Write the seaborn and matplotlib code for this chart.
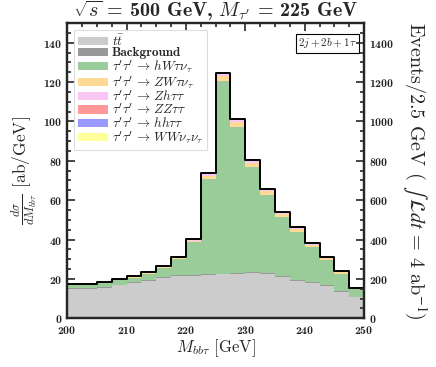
import numpy as np
import pandas as pd
import matplotlib
matplotlib.use("Agg")
import matplotlib.pyplot as plt
from matplotlib.patches import Patch
from matplotlib.ticker import MultipleLocator
import seaborn as sns

# ─── Data (ab/GeV per 2.5 GeV bin) ────────────────────────────────────────────
bin_lo, bin_hi, bin_w = 200, 250, 2.5
centers = np.arange(bin_lo + bin_w / 2, bin_hi, bin_w)

ttbar = [15.0, 15.0, 15.4, 16.7, 18.1, 19.1, 20.3, 21.6, 21.6, 22.0,
         22.3, 22.6, 23.0, 22.6, 20.8, 18.9, 18.1, 16.6, 13.2, 10.6]
background = [0.4, 0.4, 0.4, 0.4, 0.4, 0.4, 0.4, 0.4, 0.4, 0.4,
              0.4, 0.4, 0.4, 0.4, 0.4, 0.4, 0.4, 0.4, 0.4, 0.4]
hW = [1.25, 1.65, 1.85, 2.08, 2.18, 3.04, 4.74, 8.0, 16.55, 48.6,
      98.0, 74.4, 53.25, 39.82, 30.21, 24.64, 17.7, 12.46, 8.96, 3.6]
ZW = [0.3, 0.3, 0.35, 0.4, 0.45, 0.5, 0.6, 0.7, 0.9, 1.5,
      2.2, 2.2, 2.0, 1.7, 1.5, 1.3, 1.1, 0.9, 0.7, 0.5]
Zh = [0.15, 0.15, 0.2, 0.2, 0.25, 0.3, 0.3, 0.4, 0.5, 0.8,
      1.2, 1.2, 1.1, 0.9, 0.8, 0.7, 0.6, 0.5, 0.35, 0.25]
ZZ = [0.05, 0.05, 0.05, 0.06, 0.06, 0.08, 0.08, 0.1, 0.12, 0.2,
      0.3, 0.3, 0.3, 0.25, 0.2, 0.2, 0.15, 0.12, 0.1, 0.08]
hh = [0.03, 0.03, 0.03, 0.04, 0.04, 0.05, 0.05, 0.06, 0.08, 0.12,
      0.2, 0.2, 0.15, 0.15, 0.12, 0.1, 0.1, 0.08, 0.06, 0.05]
WW = [0.02, 0.02, 0.02, 0.02, 0.02, 0.03, 0.03, 0.04, 0.05, 0.08,
      0.1, 0.1, 0.1, 0.08, 0.07, 0.06, 0.05, 0.04, 0.03, 0.02]

labels = [r'$t\bar{t}$', 'Background',
          r"$\tau^\prime\tau^\prime\,\rightarrow\,hW\tau\nu_\tau$",
          r"$\tau^\prime\tau^\prime\,\rightarrow\,ZW\tau\nu_\tau$",
          r"$\tau^\prime\tau^\prime\,\rightarrow\,Zh\tau\tau$",
          r"$\tau^\prime\tau^\prime\,\rightarrow\,ZZ\tau\tau$",
          r"$\tau^\prime\tau^\prime\,\rightarrow\,hh\tau\tau$",
          r"$\tau^\prime\tau^\prime\,\rightarrow\,WW\nu_\tau\nu_\tau$"]
series = [ttbar, background, hW, ZW, Zh, ZZ, hh, WW]
colors = ['#cccccc', '#999999', '#99cc99', '#ffd996',
          '#f7c6f2', '#ff9999', '#9999ff', '#ffff99']

# ─── Style ────────────────────────────────────────────────────────────────────
sns.set_style("ticks")
plt.rcParams['font.family'] = 'serif'
plt.rcParams['font.serif'] = ['cmb10', 'DejaVu Serif']
plt.rcParams['mathtext.fontset'] = 'cm'
plt.rcParams['axes.unicode_minus'] = False
plt.rcParams['axes.formatter.use_mathtext'] = True

df = pd.concat([
    pd.DataFrame({'x': centers, 'w': vals, 'process': lab})
    for lab, vals in zip(labels, series)
], ignore_index=True)

fig = plt.figure(figsize=(4.36, 3.67), dpi=100)
ax = fig.add_axes([0.154, 0.133, 0.681, 0.804])

hist_kw = dict(binwidth=bin_w, binrange=(bin_lo, bin_hi), element='step')

# stacked histogram (seaborn puts the first hue level on top)
sns.histplot(data=df, x='x', weights='w', hue='process', hue_order=labels[::-1],
             multiple='stack', alpha=1, palette=dict(zip(labels, colors)),
             linewidth=0, legend=False, ax=ax, **hist_kw)

# total outline
sns.histplot(data=df, x='x', weights='w', fill=False, color='black',
             linewidth=1.4, ax=ax, **hist_kw)

ax.set_xlim(bin_lo, bin_hi)
ax.set_ylim(0, 150)
ax.xaxis.set_major_locator(MultipleLocator(10))
ax.xaxis.set_minor_locator(MultipleLocator(2.5))
ax.yaxis.set_major_locator(MultipleLocator(20))
ax.yaxis.set_minor_locator(MultipleLocator(5))
ax.tick_params(which='both', direction='in', top=True, right=False,
               labelsize=8.5, width=1.2)
ax.tick_params(which='major', length=6)
ax.tick_params(which='minor', length=3)
ax.tick_params(axis='x', pad=4)
for sp in ax.spines.values():
    sp.set_linewidth(1.6)

ax.set_xlabel(r'$M_{bb\tau}$ [GeV]', fontsize=12, family='cmr10', labelpad=1)
ax.set_ylabel(r'$\frac{d\sigma}{dM_{bb\tau}}$ [ab/GeV]', fontsize=12.5,
              family='cmr10', labelpad=3)
ax.set_title(r'$\sqrt{s}$ = 500 GeV, $M_{\tau^\prime}$ = 225 GeV',
             fontsize=14.5, pad=2)

# events axis
ax2 = ax.twinx()
ax2.set_ylim(0, 1500)
ax2.yaxis.set_major_locator(MultipleLocator(200))
ax2.yaxis.set_minor_locator(MultipleLocator(50))
ax2.tick_params(which='both', direction='in', labelsize=8.5, width=1.2)
ax2.tick_params(which='major', length=6)
ax2.tick_params(which='minor', length=3)
for sp in ax2.spines.values():
    sp.set_linewidth(1.6)
ax2.set_ylabel(r'Events/2.5 GeV ( $\int\,\mathcal{L}dt$ = 4 ab$^{-1}$)',
               fontsize=14.5, family='cmr10', math_fontfamily='stix',
               rotation=270, va='bottom', labelpad=4)

handles = [Patch(facecolor=c, edgecolor='none') for c in colors]
leg = ax.legend(handles, labels, loc='upper left', fontsize=9.5, frameon=True,
                handlelength=2.3, handleheight=0.6, labelspacing=-0.1,
                borderaxespad=0.5, borderpad=0.3, handletextpad=0.3,
                fancybox=False, edgecolor='#dddddd', framealpha=1)
leg.get_frame().set_linewidth(0.8)

ax.text(0.975, 0.955, r'$2j + 2b + 1\tau$', transform=ax.transAxes,
        ha='right', va='top', fontsize=8,
        bbox=dict(boxstyle='square,pad=0.2', facecolor='white',
                  edgecolor='black', linewidth=0.8))

fig.savefig('out.png', dpi=100)
